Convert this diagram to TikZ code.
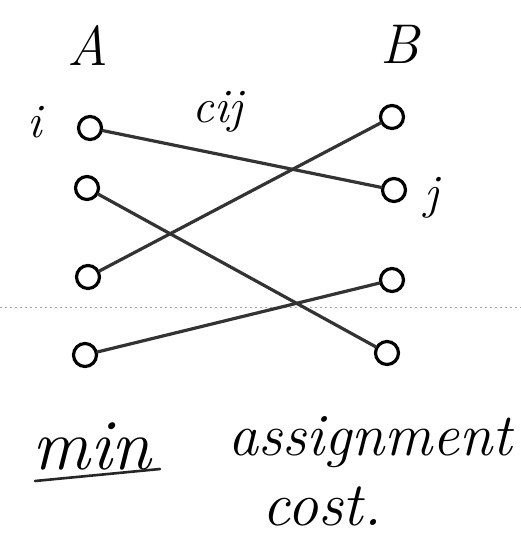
\documentclass[tikz,border=0pt]{standalone}
\usepackage{fontspec}
\begin{document}
\begin{tikzpicture}[x=1pt,y=-1pt,
  vert/.style={circle, draw=black, line width=3.2pt, minimum size=23pt, inner sep=0pt},
  edge/.style={line width=3.2pt, draw=black!80, line cap=round},
  hand/.style={font=\fontsize{#1}{#1}\selectfont\itshape, inner sep=0pt, text=black}]
\useasboundingbox (0,0) rectangle (521,538);
% faint fold line
\draw[black!35, line width=0.6pt, dash pattern=on 2pt off 3pt] (0,307) -- (521,307);
% headers
\node[hand=56] (A) at (88,46) {A};
\node[hand=56] (B) at (400,44) {B};
% left vertices
\node[vert] (a1) at (90,128) {};
\node[vert] (a2) at (87,188) {};
\node[vert] (a3) at (88,277) {};
\node[vert] (a4) at (85,355) {};
% right vertices
\node[vert] (b1) at (392,117) {};
\node[vert] (b2) at (394,190) {};
\node[vert] (b3) at (392,280) {};
\node[vert] (b4) at (387,353) {};
% labels
\node[hand=48] (li) at (35,122) {i};
\node[hand=48] (lc) at (218,112) {cij};
\node[hand=48] (lj) at (432,198) {j};
% edges
\draw[edge] (a1) -- (b2);
\draw[edge] (a2) -- (b4);
\draw[edge] (a3) -- (b1);
\draw[edge] (a4) -- (b3);
% bottom text
\node[hand=72] (min) at (92,446) {min};
\draw[line width=2.6pt, black!85, line cap=round] (35,481) -- (160,469);
\node[hand=60] (assign) at (370,442) {assignment};
\node[hand=62] (cost) at (322,506) {cost.};
\end{tikzpicture}
\end{document}
